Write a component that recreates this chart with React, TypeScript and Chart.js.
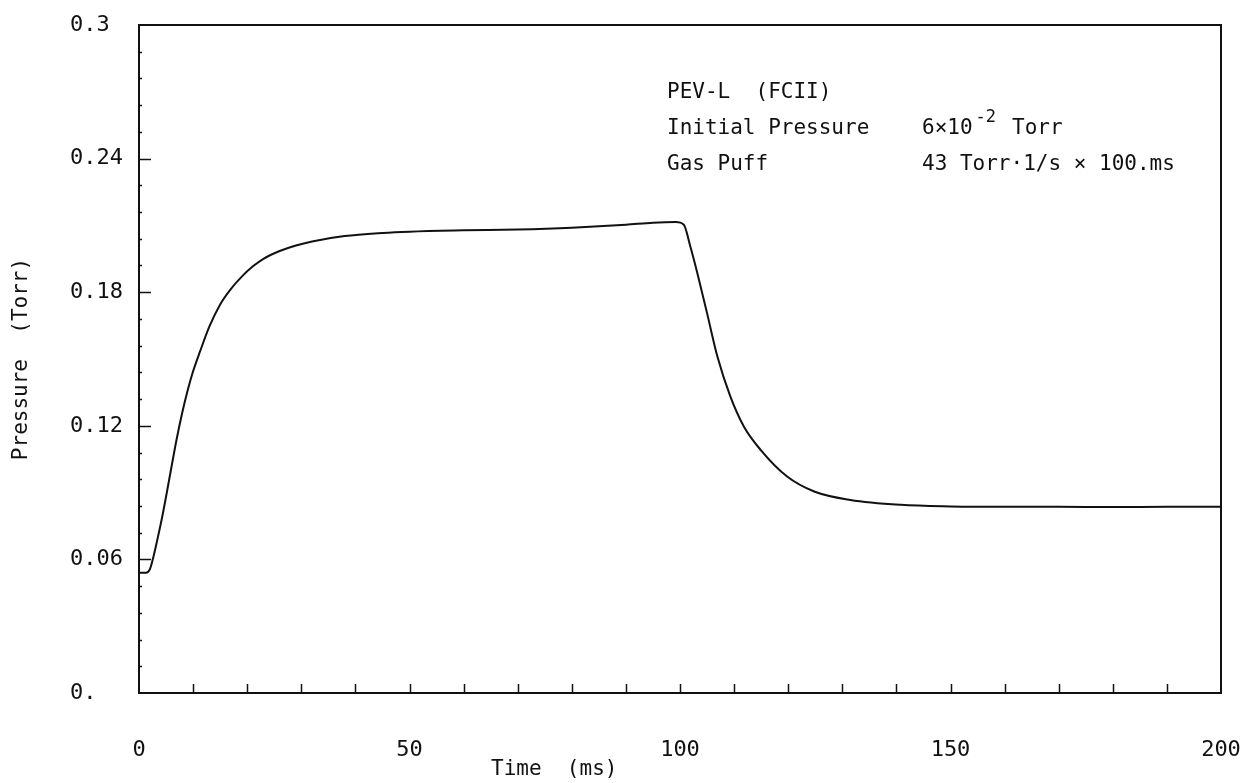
import React, { useEffect, useRef } from 'react';
import { Chart, registerables } from 'chart.js';

Chart.register(...registerables);

// ---- data ----
const timeMs = [
  0, 1.3, 2.0, 2.6, 3.4, 4.2, 5.1, 6.0, 7.0, 8.0, 9.0, 10.0, 11.3, 13.0, 15.0, 17.0,
  19.0, 21, 23, 26, 29, 32, 38, 45, 50, 60, 70, 80, 90, 95, 99.2, 100.7, 101.9,
  103.2, 105, 106.9, 109.3, 111.8, 114.9, 119.8, 124.8, 131.5, 140.8, 150, 160,
  170, 180, 190, 200,
];
const pressureTorr = [
  0.054, 0.054, 0.0555, 0.0605, 0.069, 0.078, 0.0895, 0.1015, 0.1145, 0.126,
  0.136, 0.1445, 0.1535, 0.1645, 0.1745, 0.1815, 0.187, 0.1915, 0.195, 0.1985,
  0.201, 0.2028, 0.2052, 0.2066, 0.2072, 0.2078, 0.2082, 0.209, 0.2103, 0.2112,
  0.2115, 0.2103, 0.2006, 0.1886, 0.1706, 0.1512, 0.1332, 0.1197, 0.1092, 0.0972,
  0.0905, 0.0867, 0.0845, 0.0838, 0.0836, 0.0836, 0.0835, 0.0836, 0.0836,
];

const xTickValues = [0, 50, 100, 150, 200];
const xTickLabels = ['0', '50', '100', '150', '200'];
const yTickValues = [0, 0.06, 0.12, 0.18, 0.24, 0.3];
const yTickLabels = ['0.', '0.06', '0.12', '0.18', '0.24', '0.3'];
const xMinorStep = 10;
const yMinorStep = 0.012;

const xTitle = 'Time  (ms)';
const yTitle = 'Pressure  (Torr)';
const noteTitle = 'PEV-L  (FCII)';
const noteLabels = ['Initial Pressure', 'Gas Puff'];
const noteInitialMantissa = '6×10';
const noteInitialExponent = '-2';
const noteInitialUnit = 'Torr';
const noteGasPuff = '43 Torr·1/s × 100.ms';

const FONT = "'DejaVu Sans Mono', monospace";
const INK = '#111';

const framePlugin = {
  id: 'plotterFrame',
  afterDraw(chart: any) {
    const { ctx, chartArea: a, scales } = chart;
    const xs = scales.x;
    const ys = scales.y;
    ctx.save();
    ctx.strokeStyle = INK;
    ctx.lineWidth = 2;
    ctx.strokeRect(a.left, a.top, a.right - a.left, a.bottom - a.top);

    // inward ticks on the x axis
    ctx.lineWidth = 1.5;
    for (let v = xs.min + xMinorStep; v < xs.max - 1e-9; v += xMinorStep) {
      const px = Math.round(xs.getPixelForValue(v)) + 0.5;
      ctx.beginPath();
      ctx.moveTo(px, a.bottom);
      ctx.lineTo(px, a.bottom - 9);
      ctx.stroke();
    }
    // inward ticks on the y axis
    for (let v = ys.min + yMinorStep; v < ys.max - 1e-9; v += yMinorStep) {
      const py = Math.round(ys.getPixelForValue(v)) + 0.5;
      const isMajor = yTickValues.some((t) => Math.abs(t - v) < 1e-6);
      ctx.beginPath();
      ctx.moveTo(a.left, py);
      ctx.lineTo(a.left + (isMajor ? 12 : 3), py);
      ctx.stroke();
    }

    // axis titles
    ctx.fillStyle = INK;
    ctx.font = `21px ${FONT}`;
    ctx.textBaseline = 'middle';
    ctx.textAlign = 'left';
    ctx.fillText(xTitle, 491, 770);
    ctx.save();
    ctx.translate(22, (a.top + a.bottom) / 2);
    ctx.rotate(-Math.PI / 2);
    ctx.textAlign = 'center';
    ctx.fillText(yTitle, 0, 0);
    ctx.restore();

    // annotation block
    ctx.font = `21px ${FONT}`;
    ctx.textAlign = 'left';
    ctx.fillText(noteTitle, 667, 93);
    ctx.fillText(noteLabels[0], 667, 129);
    ctx.fillText(noteLabels[1], 667, 165);
    ctx.fillText(noteInitialMantissa, 922, 129);
    const w = ctx.measureText(noteInitialMantissa).width;
    ctx.font = `17px ${FONT}`;
    ctx.fillText(noteInitialExponent, 922 + w + 3, 118);
    const w2 = ctx.measureText(noteInitialExponent).width;
    ctx.font = `21px ${FONT}`;
    ctx.fillText(noteInitialUnit, 922 + w + 3 + w2 + 16, 129);
    ctx.fillText(noteGasPuff, 922, 165);
    ctx.restore();
  },
};

export default function App() {
  const ref = useRef<HTMLCanvasElement | null>(null);

  useEffect(() => {
    if (!ref.current) return;
    const chart = new Chart(ref.current, {
      type: 'line',
      data: {
        datasets: [
          {
            data: timeMs.map((t, i) => ({ x: t, y: pressureTorr[i] })),
            borderColor: INK,
            borderWidth: 2,
            pointRadius: 0,
            fill: false,
            cubicInterpolationMode: 'monotone',
          },
        ],
      },
      options: {
        responsive: false,
        animation: false,
        devicePixelRatio: 1,
        layout: { autoPadding: false, padding: { left: 70, top: 25, right: 28, bottom: 0 } },
        plugins: { legend: { display: false }, tooltip: { enabled: false } },
        scales: {
          x: {
            type: 'linear',
            min: 0,
            max: 200,
            grid: { display: false, drawTicks: false },
            border: { display: false },
            afterBuildTicks: (s: any) => {
              s.ticks = xTickValues.map((v) => ({ value: v }));
            },
            afterFit: (s: any) => {
              s.height = 90;
              s.paddingLeft = 0;
              s.paddingRight = 0;
            },
            ticks: {
              autoSkip: false,
              maxRotation: 0,
              padding: 44,
              color: INK,
              font: { family: FONT, size: 22 },
              callback: (v: any) => xTickLabels[xTickValues.indexOf(Number(v))],
            },
          },
          y: {
            type: 'linear',
            min: 0,
            max: 0.3,
            grid: { display: false, drawTicks: false },
            border: { display: false },
            afterBuildTicks: (s: any) => {
              s.ticks = yTickValues.map((v) => ({ value: v }));
            },
            afterFit: (s: any) => {
              s.width = 69;
              s.paddingTop = 0;
              s.paddingBottom = 0;
            },
            ticks: {
              crossAlign: 'far',
              padding: 14,
              color: INK,
              font: { family: FONT, size: 22 },
              callback: (v: any) => yTickLabels[yTickValues.indexOf(Number(v))],
            },
          },
        },
      },
      plugins: [framePlugin],
    } as any);
    return () => chart.destroy();
  }, []);

  return (
    <div style={{ position: 'fixed', left: 0, top: 0, width: 1249, height: 783, background: '#fff' }}>
      <canvas ref={ref} width={1249} height={783} style={{ display: 'block' }} />
    </div>
  );
}
